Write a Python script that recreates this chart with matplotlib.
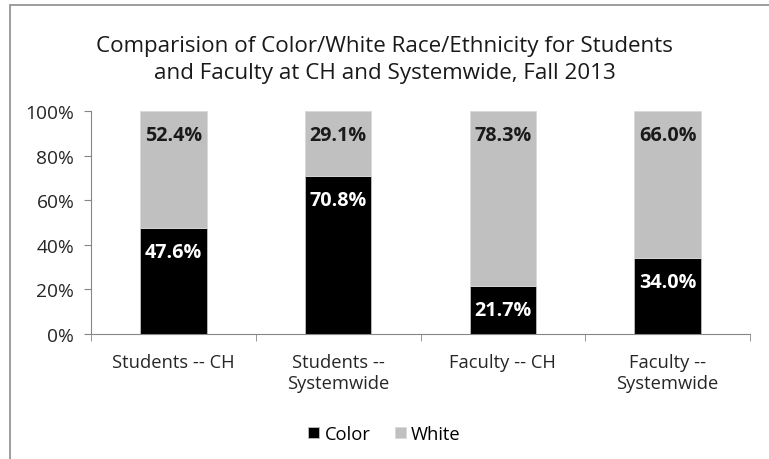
import matplotlib.pyplot as plt
import matplotlib.patches as mpatches
import numpy as np

categories = ['Students -- CH', 'Students --\nSystemwide', 'Faculty -- CH', 'Faculty --\nSystemwide']
color_pct = [47.6, 70.8, 21.7, 34.0]
white_pct = [52.4, 29.1, 78.3, 66.0]
y_ticks = [0, 20, 40, 60, 80, 100]

plt.rcParams['font.family'] = ['Open Sans', 'DejaVu Sans']

fig = plt.figure(figsize=(7.69, 4.60), dpi=100)
# chart border (Excel style, cropped on right/bottom)
fig.patches.append(mpatches.Rectangle((10 / 769, -0.1), 1.2, 1 - 6 / 460 + 0.1,
                                      transform=fig.transFigure, fill=False,
                                      edgecolor='#8c8c8c', linewidth=1.2))

ax = fig.add_axes([91 / 769, 1 - 335 / 460, (750 - 91) / 769, (335 - 112) / 460])
x = np.arange(len(categories))
w = 0.405
b1 = ax.bar(x, color_pct, w, color='black', edgecolor='#bfbfbf', linewidth=0.6, label='Color')
b2 = ax.bar(x, white_pct, w, bottom=color_pct, color='#c0c0c0', edgecolor='#d9d9d9',
            linewidth=0.6, label='White')

for i in range(len(categories)):
    ax.annotate('%.1f%%' % color_pct[i], (x[i], color_pct[i]), xytext=(0, -17.5),
                textcoords='offset points', ha='center', va='center',
                color='white', fontsize=14.2, fontweight='bold')
    ax.annotate('%.1f%%' % white_pct[i], (x[i], color_pct[i] + white_pct[i]), xytext=(0, -17),
                textcoords='offset points', ha='center', va='center',
                color='#1a1a1a', fontsize=14.2, fontweight='bold')

ax.set_xlim(-0.5, len(categories) - 0.5)
ax.set_ylim(0, 100)
ax.set_yticks(y_ticks)
ax.set_yticklabels(['%d%%' % t for t in y_ticks], fontsize=13.8, color='#262626')
ax.set_xticks(x)
ax.set_xticklabels(categories, fontsize=13.2, color='#262626', linespacing=1.15)
ax.tick_params(axis='x', length=0, pad=14)
ax.set_xticks(np.arange(len(categories) + 1) - 0.5, minor=True)
ax.tick_params(axis='x', which='minor', length=5, color='#868686')
ax.tick_params(axis='y', length=5, color='#868686', pad=7)
for s in ['top', 'right']:
    ax.spines[s].set_visible(False)
for s in ['left', 'bottom']:
    ax.spines[s].set_color('#868686')

fig.text(0.5, 1 - 60 / 460, 'Comparision of Color/White Race/Ethnicity for Students\nand Faculty at CH and Systemwide, Fall 2013',
         ha='center', va='center', fontsize=16.1, color='#1a1a1a', linespacing=1.35)

fig.legend(handles=[b1, b2], labels=['Color', 'White'], loc='center',
           bbox_to_anchor=(0.5, 1 - 435 / 460), ncol=2, frameon=False, fontsize=13.2,
           handlelength=0.6, handleheight=0.6, handletextpad=0.3, columnspacing=1.3)

fig.savefig('out.png', dpi=100)
